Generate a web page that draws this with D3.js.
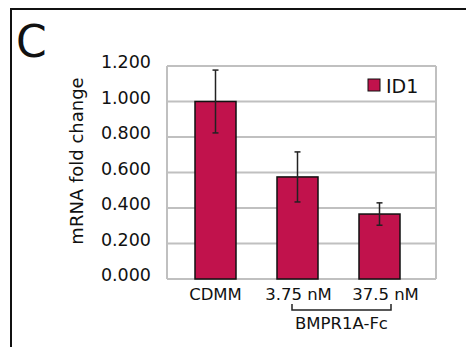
<!DOCTYPE html>
<html>
<head>
<meta charset="utf-8">
<script src="https://cdn.jsdelivr.net/npm/d3@7"></script>
<style>
  body { margin: 0; background: #fff; }
  text { font-family: "DejaVu Sans", sans-serif; fill: #111; }
</style>
</head>
<body>
<div id="chart-area"></div>
<script>
// data
var categories = ["CDMM", "3.75 nM", "37.5 nM"];
var values = [1.000, 0.575, 0.366];
var errors = [0.177, 0.141, 0.063];
var yTicks = [0, 0.2, 0.4, 0.6, 0.8, 1.0, 1.2];
var seriesName = "ID1";
var groupLabel = "BMPR1A-Fc";

var W = 466, H = 347;
var barColor = "#c1124c";

var svg = d3.select("#chart-area").append("svg")
    .attr("width", W)
    .attr("height", H);

// panel frame (top and left edges visible)
svg.append("line").attr("x1", 10).attr("x2", W).attr("y1", 9).attr("y2", 9)
    .attr("stroke", "#111").attr("stroke-width", 2);
svg.append("line").attr("x1", 11).attr("x2", 11).attr("y1", 8).attr("y2", H)
    .attr("stroke", "#111").attr("stroke-width", 2);

svg.append("text")
    .attr("x", 16).attr("y", 57)
    .style("font-size", "44px")
    .text("C");

var plot = { left: 167, right: 436, top: 66, bottom: 279 };

var y = d3.scaleLinear().domain([0, 1.2]).range([plot.bottom, plot.top]);
var x = d3.scaleBand().domain(categories).range([174.5, 420.5]).paddingInner(0.5).paddingOuter(0.25);

// gridlines
svg.append("g").selectAll("line").data(yTicks).enter().append("line")
    .attr("x1", plot.left).attr("x2", plot.right)
    .attr("y1", d => y(d)).attr("y2", d => y(d))
    .attr("stroke", "#c0c0c0").attr("stroke-width", 2);
svg.append("line")
    .attr("x1", plot.left).attr("x2", plot.left)
    .attr("y1", plot.top).attr("y2", plot.bottom)
    .attr("stroke", "#c0c0c0").attr("stroke-width", 2);
svg.append("line")
    .attr("x1", plot.right).attr("x2", plot.right)
    .attr("y1", plot.top).attr("y2", plot.bottom)
    .attr("stroke", "#c0c0c0").attr("stroke-width", 2);

// y tick labels
svg.append("g").selectAll("text").data(yTicks).enter().append("text")
    .attr("x", 151)
    .attr("y", d => y(d) + 2)
    .attr("text-anchor", "end")
    .style("font-size", "17.5px")
    .text(d => d3.format(".3f")(d));

svg.append("text")
    .attr("transform", "translate(83,161) rotate(-90)")
    .attr("text-anchor", "middle")
    .style("font-size", "18px")
    .text("mRNA fold change");

// bars
svg.append("g").selectAll("rect").data(values).enter().append("rect")
    .attr("x", (d, i) => x(categories[i]))
    .attr("y", d => y(d))
    .attr("width", x.bandwidth())
    .attr("height", d => y(0) - y(d))
    .attr("fill", barColor)
    .attr("stroke", "#111")
    .attr("stroke-width", 1.5);

// error bars
var eb = svg.append("g").attr("stroke", "#222").attr("stroke-width", 1.5);
values.forEach((v, i) => {
    var cx = x(categories[i]) + x.bandwidth() / 2;
    eb.append("line").attr("x1", cx).attr("x2", cx)
        .attr("y1", y(v + errors[i])).attr("y2", y(v - errors[i]));
    eb.append("line").attr("x1", cx - 3).attr("x2", cx + 3)
        .attr("y1", y(v + errors[i])).attr("y2", y(v + errors[i]));
    eb.append("line").attr("x1", cx - 3).attr("x2", cx + 3)
        .attr("y1", y(v - errors[i])).attr("y2", y(v - errors[i]));
});

// x labels
var labelShift = [0, 1, 6];
svg.append("g").selectAll("text").data(categories).enter().append("text")
    .attr("x", (d, i) => x(d) + x.bandwidth() / 2 + labelShift[i])
    .attr("y", 300)
    .attr("text-anchor", "middle")
    .style("font-size", "16.5px")
    .text(d => d);

// group bracket
var bx1 = 292, bx2 = 391;
svg.append("path")
    .attr("d", "M" + bx1 + ",304V310H" + bx2 + "V304")
    .attr("fill", "none").attr("stroke", "#222").attr("stroke-width", 1.5);
svg.append("text")
    .attr("x", (bx1 + bx2) / 2).attr("y", 329)
    .attr("text-anchor", "middle")
    .style("font-size", "16.5px")
    .text(groupLabel);

// legend
svg.append("rect")
    .attr("x", 368).attr("y", 79).attr("width", 12).attr("height", 12)
    .attr("fill", barColor).attr("stroke", "#111").attr("stroke-width", 1);
svg.append("text")
    .attr("x", 386).attr("y", 92.5)
    .style("font-size", "19px")
    .text(seriesName);
</script>
</body>
</html>
